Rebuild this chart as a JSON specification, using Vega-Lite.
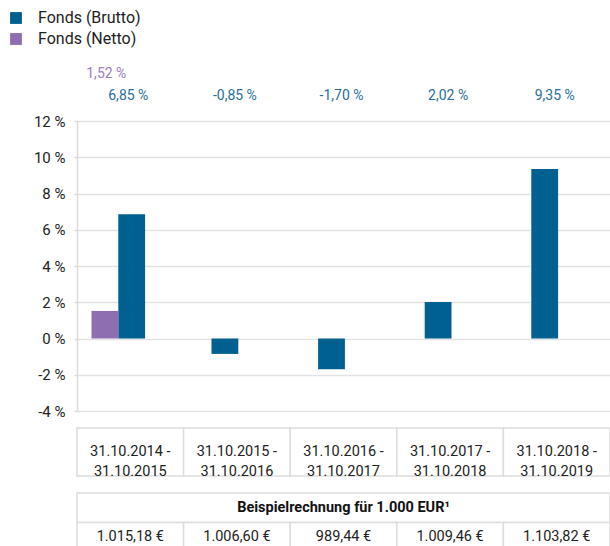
{
  "$schema": "https://vega.github.io/schema/vega-lite/v6.json",
  "autosize": {"type": "pad"},
  "padding": {"left": 8, "top": 10, "right": 0, "bottom": 0},
  "background": "white",
  "bounds": "flush",
  "spacing": 17,
  "config": {
    "view": {"stroke": null},
    "font": "Roboto",
    "text": {"font": "Roboto"}
  },
  "datasets": {
    "returns": [
      {"period": "31.10.2014 -\n31.10.2015", "series": "Fonds (Brutto)", "value": 6.85},
      {"period": "31.10.2014 -\n31.10.2015", "series": "Fonds (Netto)", "value": 1.52},
      {"period": "31.10.2015 -\n31.10.2016", "series": "Fonds (Brutto)", "value": -0.85},
      {"period": "31.10.2016 -\n31.10.2017", "series": "Fonds (Brutto)", "value": -1.70},
      {"period": "31.10.2017 -\n31.10.2018", "series": "Fonds (Brutto)", "value": 2.02},
      {"period": "31.10.2018 -\n31.10.2019", "series": "Fonds (Brutto)", "value": 9.35}
    ],
    "periods": [
      {"period": "31.10.2014 -\n31.10.2015", "amount": 1015.18},
      {"period": "31.10.2015 -\n31.10.2016", "amount": 1006.60},
      {"period": "31.10.2016 -\n31.10.2017", "amount": 989.44},
      {"period": "31.10.2017 -\n31.10.2018", "amount": 1009.46},
      {"period": "31.10.2018 -\n31.10.2019", "amount": 1103.82}
    ],
    "title": [
      {"row": "title", "text": "Beispielrechnung für 1.000 EUR¹"}
    ]
  },
  "vconcat": [
    {
      "width": 533,
      "height": 44,
      "data": {"name": "returns"},
      "transform": [
        {"calculate": "replace(replace(format(datum.value, '.2f'), '.', ','), '\u2212', '-') + ' %'", "as": "label"}
      ],
      "encoding": {
        "x": {"field": "period", "type": "nominal", "sort": null, "axis": null,
              "scale": {"paddingInner": 0, "paddingOuter": 0}},
        "y": {"field": "series", "type": "nominal", "axis": null,
              "scale": {"domain": ["Fonds (Netto)", "Fonds (Brutto)"], "paddingInner": 0, "paddingOuter": 0}},
        "text": {"field": "label"}
      },
      "layer": [
        {
          "transform": [{"filter": "datum.series === 'Fonds (Brutto)'"}],
          "mark": {"type": "text", "fontSize": 14, "color": "#2a6e9c", "dx": -2, "dy": 3}
        },
        {
          "transform": [{"filter": "datum.series === 'Fonds (Netto)'"}],
          "mark": {"type": "text", "fontSize": 14, "color": "#9a80c2", "dx": -24, "dy": 3}
        }
      ]
    },
    {
      "width": 533,
      "height": 290,
      "data": {"name": "returns"},
      "encoding": {
        "x": {"field": "period", "type": "nominal", "sort": null, "axis": null,
              "scale": {"paddingInner": 0.497, "paddingOuter": 0.2485}},
        "y": {"field": "value", "type": "quantitative",
              "scale": {"domain": [-4, 12], "nice": false, "zero": false},
              "axis": {"title": null, "values": [-4, -2, 0, 2, 4, 6, 8, 10, 12],
                       "labelExpr": "datum.value + ' %'",
                       "labelFontSize": 15, "labelColor": "#222", "labelPadding": 9,
                       "grid": true, "gridColor": "#e2e2e2", "gridWidth": 1.5,
                       "domainColor": "#dcdcdc", "domainWidth": 1.5,
                       "tickColor": "#dcdcdc", "tickSize": 3, "tickWidth": 1.5}},
        "color": {"field": "series", "type": "nominal",
                  "scale": {"domain": ["Fonds (Brutto)", "Fonds (Netto)"], "range": ["#00608f", "#8e6eb1"]},
                  "legend": {"title": null, "orient": "none", "legendX": -69, "legendY": -50,
                             "direction": "vertical", "symbolType": "square", "symbolSize": 140,
                             "symbolStrokeWidth": 0, "symbolOpacity": 1,
                             "labelFontSize": 16, "labelColor": "#222", "labelOffset": 14,
                             "rowPadding": 5}}
      },
      "layer": [
        {
          "transform": [{"filter": "datum.period === '31.10.2014 -\\n31.10.2015'"}],
          "mark": {"type": "bar"},
          "encoding": {
            "xOffset": {"field": "series", "type": "nominal",
                        "scale": {"domain": ["Fonds (Netto)", "Fonds (Brutto)"], "paddingInner": 0, "paddingOuter": 0,
                                  "range": [-12, 41.6]}}
          }
        },
        {
          "transform": [{"filter": "datum.period !== '31.10.2014 -\\n31.10.2015'"}],
          "mark": {"type": "bar", "xOffset": -12, "width": {"band": 0.5}}
        }
      ]
    },
    {
      "width": 533,
      "height": 48,
      "data": {"name": "periods"},
      "encoding": {
        "x": {"field": "period", "type": "nominal", "sort": null, "axis": null,
              "scale": {"paddingInner": 0, "paddingOuter": 0}}
      },
      "layer": [
        {"mark": {"type": "rect", "fill": "white", "stroke": "#dddddd", "strokeWidth": 1.5}},
        {"mark": {"type": "text", "fontSize": 14.5, "color": "#222", "lineBreak": "\n", "lineHeight": 20},
         "encoding": {"text": {"field": "period"}}}
      ]
    },
    {
      "width": 533,
      "height": 59,
      "layer": [
        {
          "data": {"name": "title"},
          "mark": {"type": "rect", "fill": "white", "stroke": "#dddddd", "strokeWidth": 1.5},
          "encoding": {
            "y": {"field": "row", "type": "nominal", "axis": null,
                  "scale": {"domain": ["title", "values"], "paddingInner": 0, "paddingOuter": 0}}
          }
        },
        {
          "data": {"name": "title"},
          "mark": {"type": "text", "fontSize": 14.5, "fontWeight": "bold", "color": "#111"},
          "encoding": {
            "y": {"field": "row", "type": "nominal"},
            "text": {"field": "text"}
          }
        },
        {
          "data": {"name": "periods"},
          "mark": {"type": "rect", "fill": "white", "stroke": "#dddddd", "strokeWidth": 1.5},
          "encoding": {
            "x": {"field": "period", "type": "nominal", "sort": null, "axis": null,
                  "scale": {"paddingInner": 0, "paddingOuter": 0}},
            "y": {"datum": "values", "type": "nominal"}
          }
        },
        {
          "data": {"name": "periods"},
          "transform": [
            {"calculate": "replace(replace(replace(format(datum.amount, ',.2f'), ',', '#'), '.', ','), '#', '.') + ' €'", "as": "label"}
          ],
          "mark": {"type": "text", "fontSize": 14.5, "color": "#222"},
          "encoding": {
            "x": {"field": "period", "type": "nominal", "sort": null},
            "y": {"datum": "values", "type": "nominal"},
            "text": {"field": "label"}
          }
        }
      ]
    }
  ]
}
